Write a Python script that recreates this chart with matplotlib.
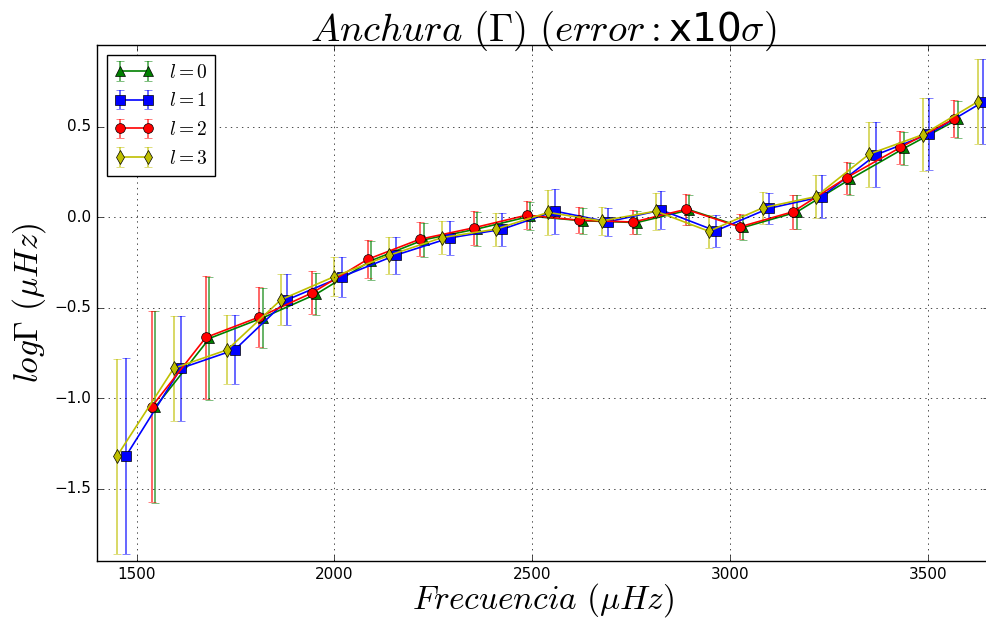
import matplotlib
matplotlib.use("Agg")
import matplotlib.pyplot as plt
import numpy as np

plt.style.use("classic")

# frecuencias (muHz) y log Gamma para cada grado l
f0 = [1547, 1684, 1820, 1954, 2093, 2226, 2361, 2495, 2627, 2764, 2897, 3033, 3168, 3303, 3439, 3575]
g0 = [-1.05, -0.67, -0.555, -0.425, -0.24, -0.125, -0.065, 0.005, -0.02, -0.03, 0.04, -0.057, 0.028, 0.21, 0.38, 0.54]
e0 = [0.53, 0.34, 0.166, 0.118, 0.106, 0.094, 0.093, 0.078, 0.072, 0.066, 0.085, 0.069, 0.094, 0.088, 0.093, 0.104]

f1 = [1473, 1612, 1748, 1881, 2018, 2155, 2291, 2424, 2557, 2691, 2826, 2963, 3097, 3231, 3368, 3502, 3639]
g1 = [-1.32, -0.835, -0.733, -0.456, -0.33, -0.21, -0.115, -0.067, 0.033, -0.026, 0.039, -0.076, 0.048, 0.113, 0.344, 0.459, 0.637]
e1 = [0.54, 0.29, 0.19, 0.139, 0.109, 0.102, 0.092, 0.091, 0.124, 0.078, 0.103, 0.09, 0.088, 0.118, 0.18, 0.2, 0.235]

f2 = [1538, 1675, 1810, 1944, 2084, 2216, 2352, 2486, 2618, 2755, 2888, 3024, 3159, 3294, 3430, 3566]
g2 = [-1.048, -0.665, -0.552, -0.418, -0.233, -0.122, -0.059, 0.011, -0.017, -0.027, 0.043, -0.054, 0.03, 0.218, 0.385, 0.544]
e2 = [0.528, 0.34, 0.166, 0.118, 0.106, 0.094, 0.093, 0.078, 0.072, 0.066, 0.085, 0.069, 0.094, 0.088, 0.093, 0.104]

f3 = [1450, 1594, 1729, 1865, 1999, 2138, 2272, 2407, 2540, 2675, 2812, 2946, 3083, 3216, 3351, 3487, 3625]
g3 = [-1.322, -0.835, -0.733, -0.456, -0.329, -0.211, -0.113, -0.067, 0.026, -0.021, 0.033, -0.078, 0.052, 0.113, 0.348, 0.456, 0.637]
e3 = [0.54, 0.29, 0.19, 0.139, 0.109, 0.102, 0.092, 0.091, 0.124, 0.078, 0.103, 0.09, 0.088, 0.118, 0.18, 0.2, 0.235]

fig = plt.figure(figsize=(9.86, 6.19), dpi=100, facecolor="white")
ax = fig.add_axes([0.0984, 0.0937, 0.9047, 0.8333])

series = [
    (f0, g0, e0, "g", "^", (0, 0.5, 0, 0.7), r"$l=0$"),
    (f1, g1, e1, "b", "s", (0, 0, 1, 0.7), r"$l=1$"),
    (f2, g2, e2, "r", "o", (1, 0, 0, 0.7), r"$l=2$"),
    (f3, g3, e3, "y", "d", (0.75, 0.75, 0, 0.7), r"$l=3$"),
]
for f, g, e, c, m, ec, lab in series:
    ax.errorbar(f, g, yerr=e, color=c, marker=m, ecolor=ec, capsize=3,
                markersize=7, markeredgewidth=0.5, markeredgecolor="k",
                linewidth=1.2, label=lab)

ax.set_xlim(1400, 3654)
ax.set_ylim(-1.9, 0.95)
ax.set_xticks([1500, 2000, 2500, 3000, 3500])
ax.set_yticks([-1.5, -1.0, -0.5, 0.0, 0.5])
ax.tick_params(labelsize=11)
ax.grid(True)

ax.set_title(r"$Anchura\ (\Gamma)\ (error: $" + "x10" + r"$\sigma)$", fontsize=28, pad=3)
ax.set_xlabel(r"$Frecuencia\ (\mu Hz)$", fontsize=24, labelpad=0)
ax.set_ylabel(r"$log\Gamma\ (\mu Hz)$", fontsize=24)

leg = ax.legend(loc="upper left", numpoints=2, fontsize=14)

fig.savefig("out.png", dpi=100, facecolor="white")
